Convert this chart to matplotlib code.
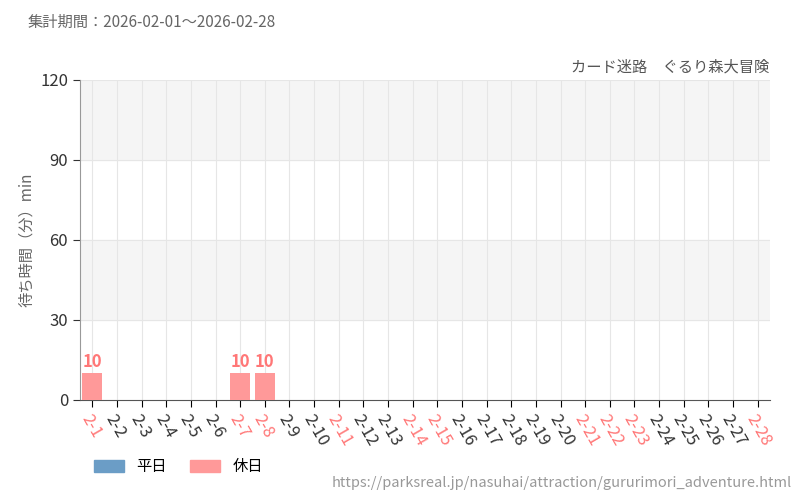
import matplotlib
matplotlib.use('Agg')
from matplotlib import pyplot as plt
from matplotlib.patches import Patch

plt.rcParams['font.family'] = ['Noto Sans CJK JP', 'DejaVu Sans']

# データ
日付 = ['2-%d' % d for d in range(1, 29)]
休日 = ['2-1', '2-7', '2-8', '2-11', '2-14', '2-15', '2-21', '2-22', '2-23', '2-28']
平日値 = [0] * 28
休日値 = [0] * 28
for d, v in [('2-1', 10), ('2-7', 10), ('2-8', 10)]:
    休日値[日付.index(d)] = v

fig = plt.figure(figsize=(8, 5), dpi=100)
ax = fig.add_axes([0.1, 0.2, 0.8625, 0.64])

x = list(range(len(日付)))
ax.bar(x, 休日値, width=0.8, color='#ff9999', zorder=3)
for i, v in enumerate(休日値):
    if v > 0:
        ax.text(i, v + 0.8, str(v), ha='center', va='bottom', color='#ff7777',
                fontsize=12, fontweight='bold', zorder=4)

ax.set_xlim(-0.5, 27.5)
ax.set_ylim(0, 120)
ax.set_yticks([0, 30, 60, 90, 120])
ax.axhspan(30, 60, color='#f5f5f5', zorder=0)
ax.axhspan(90, 120, color='#f5f5f5', zorder=0)
for y in [30, 60, 90, 120]:
    ax.axhline(y, color='#e6e6e6', lw=0.8, zorder=1)
for i in x:
    ax.axvline(i, color='#e6e6e6', lw=0.8, zorder=1)

ax.set_xticks(x)
ax.set_xticklabels(日付, rotation=-60, ha='left', rotation_mode='anchor', fontsize=12)
for lab in ax.get_xticklabels():
    lab.set_color('#ff7777' if lab.get_text() in 休日 else '#333333')
ax.tick_params(axis='y', colors='#333333', labelsize=12, length=5)
ax.tick_params(axis='x', length=5)
for s in ['top', 'right']:
    ax.spines[s].set_visible(False)
ax.spines['left'].set_color('#999999')
ax.spines['bottom'].set_color('#555555')
ax.set_ylabel('待ち時間（分）min', color='#666666', fontsize=11)

fig.text(0.035, 0.955, '集計期間：2026-02-01～2026-02-28', fontsize=11, color='#666666', va='center')
fig.text(0.962, 0.865, 'カード迷路　ぐるり森大冒険', fontsize=11, color='#555555', ha='right', va='center')
fig.text(0.99, 0.035, 'https://parksreal.jp/nasuhai/attraction/gururimori_adventure.html',
         fontsize=10.5, color='#999999', ha='right', va='center')
fig.legend(handles=[Patch(color='#6b9dc6', label='平日'), Patch(color='#ff9999', label='休日')],
           loc='center left', bbox_to_anchor=(0.1, 0.067), ncol=2, frameon=False,
           fontsize=11, handlelength=2.0, handleheight=0.8, columnspacing=1.5)

plt.savefig('out.png')
